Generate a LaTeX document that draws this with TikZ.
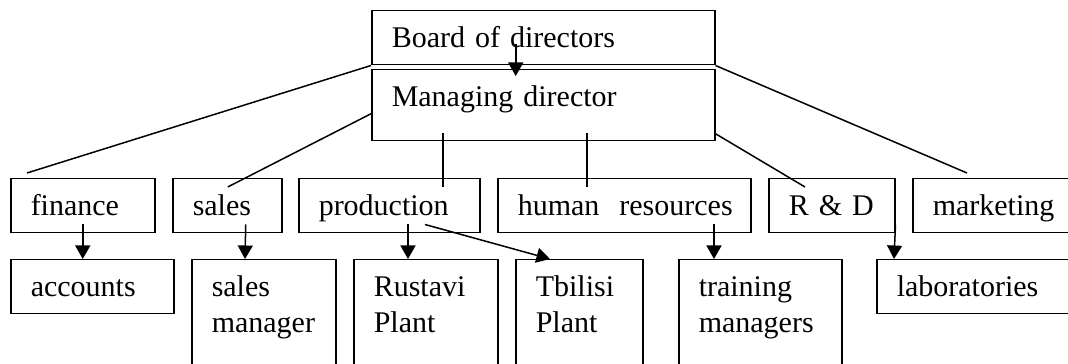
\documentclass[tikz,border=0pt]{standalone}
\usepackage{fontspec}
\setmainfont{Liberation Serif}
\usetikzlibrary{arrows.meta,calc}

\begin{document}
\begin{tikzpicture}[x=0.4pt, y=-0.4pt,
  unit/.style={draw, line width=0.6pt, anchor=north west, inner xsep=8pt, inner ysep=0pt,
    align=left, text height=14.8pt, font=\fontsize{12}{14.4}\selectfont},
  deptbox/.style={unit, text depth=6.8pt},
  subbox/.style={unit, text depth=33.2pt},
  link/.style={line width=0.6pt},
  arr/.style={line width=0.6pt, -{Triangle[width=6pt,length=5.4pt]}}]
  \useasboundingbox (0,0) rectangle (1068,364);

  \node[deptbox, text width=121.2pt] (board) at (371,10) {Board of directors};
  \node[unit, text depth=13.6pt, text width=121.2pt] (managing) at (371,69) {Managing director};

  \node[deptbox, text width=41.6pt] (finance) at (10,178) {finance};
  \node[deptbox, text width=27.6pt] (sales) at (172,178) {sales};
  \node[deptbox, text width=56.4pt] (production) at (298,178) {production};
  \node[deptbox, text width=85.2pt] (hr) at (497,178) {\mbox{human\ \ resources}};
  \node[deptbox, text width=34.4pt] (rd) at (768,178) {\mbox{R \& D}};
  \node[deptbox, text width=52pt] (marketing) at (912,178) {marketing};

  \node[deptbox, text width=49.2pt] (accounts) at (10,259) {accounts};
  \node[subbox, text width=41.6pt] (salesman) at (191,259) {sales\\manager};
  \node[subbox, text width=41.6pt] (rustavi) at (353,259) {Rustavi\\Plant};
  \node[subbox, text width=34.8pt] (tbilisi) at (515,259) {Tbilisi\\Plant};
  \node[subbox, text width=49.2pt] (training) at (678,259) {training\\managers};
  \node[deptbox, text width=68pt] (labs) at (876,259) {laboratories};

  \path[link]
  (board.south west) edge ($(finance.north west)+(17,-5)$)
  ($(managing.west)+(0,8.5)$) edge ($(sales.north)+(0.5,9)$)
  ($(managing.south west)+(72,-8)$) edge ($(production.north west)+(145,9)$)
  ($(managing.south west)+(216,-8)$) edge ($(hr.north west)+(90,9)$)
  ($(managing.east)+(0,28.5)$) edge ($(rd.north west)+(37,9)$)
  (board.south east) edge ($(marketing.north west)+(55,-5)$)
  ;
  \path[arr]
  ($(board.south)+(-27.5,-21)$) edge ($(managing.north)+(-27.5,7)$)
  ($(finance.south)+(0,-9)$) edge (finance.south |- accounts.north)
  ($(sales.south)+(18.5,-9)$) edge ($(salesman.north west)+(54,0)$)
  ($(production.south west)+(110,-9)$) edge ($(rustavi.north west)+(55,0)$)
  ($(production.south west)+(127,-9)$) edge ($(tbilisi.north west)+(35,0)$)
  ($(hr.south west)+(217,-9)$) edge ($(training.north west)+(36,0)$)
  ($(rd.south east)+(0,-9)$) edge ($(labs.north west)+(18,0)$)
  ;
\end{tikzpicture}
\end{document}
